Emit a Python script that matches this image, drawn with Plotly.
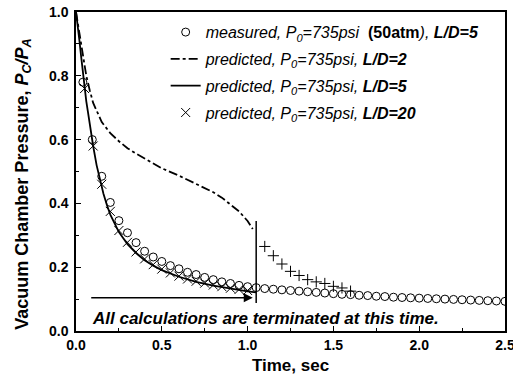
import plotly.graph_objects as go

# ---------------- data ----------------
measured_t = [0.04, 0.095, 0.15, 0.2, 0.25, 0.3, 0.35, 0.4, 0.45, 0.5,
              0.55, 0.6, 0.65, 0.7, 0.75, 0.8, 0.85, 0.9, 0.95, 1.0,
              1.05, 1.1, 1.15, 1.2, 1.25, 1.3, 1.35, 1.4, 1.45, 1.5,
              1.55, 1.6, 1.65, 1.7, 1.75, 1.8, 1.85, 1.9, 1.95, 2.0,
              2.05, 2.1, 2.15, 2.2, 2.25, 2.3, 2.35, 2.4, 2.45, 2.5]
measured_p = [0.78, 0.60, 0.485, 0.403, 0.346, 0.308, 0.277, 0.25, 0.232, 0.218,
              0.205, 0.195, 0.184, 0.177, 0.168, 0.161, 0.154, 0.149, 0.143, 0.139,
              0.136, 0.133, 0.131, 0.129, 0.127, 0.125, 0.123, 0.121, 0.119, 0.117,
              0.115, 0.114, 0.112, 0.111, 0.109, 0.108, 0.106, 0.105, 0.104, 0.103,
              0.102, 0.101, 0.100, 0.099, 0.098, 0.097, 0.096, 0.095, 0.094, 0.093]

ld2_t = [0.0, 0.02, 0.04, 0.06, 0.08, 0.1, 0.15, 0.2, 0.25, 0.3, 0.35, 0.4,
         0.5, 0.6, 0.7, 0.8, 0.85, 0.9, 0.95, 1.0, 1.03]
ld2_p = [1.0, 0.93, 0.86, 0.80, 0.755, 0.715, 0.655, 0.62, 0.595, 0.573, 0.556, 0.54,
         0.51, 0.487, 0.462, 0.435, 0.418, 0.397, 0.375, 0.345, 0.32]

ld5_t = [0.0, 0.01, 0.02, 0.03, 0.04, 0.05, 0.06, 0.07, 0.08, 0.09, 0.1, 0.12,
         0.14, 0.16, 0.18, 0.2, 0.25, 0.3, 0.35, 0.4, 0.45, 0.5, 0.6, 0.7,
         0.8, 0.9, 1.0, 1.05]
ld5_p = [1.0, 0.96, 0.91, 0.86, 0.81, 0.765, 0.72, 0.685, 0.645, 0.61, 0.58, 0.52,
         0.47, 0.43, 0.395, 0.365, 0.31, 0.272, 0.244, 0.222, 0.205, 0.191, 0.17, 0.154,
         0.142, 0.132, 0.124, 0.121]

ld20_t = [0.05, 0.1, 0.15, 0.2, 0.25, 0.3, 0.35, 0.4, 0.45, 0.5,
          0.55, 0.6, 0.65, 0.7, 0.75, 0.8, 0.85, 0.9, 0.95, 1.0]
ld20_p = [0.76, 0.58, 0.46, 0.375, 0.315, 0.278, 0.248, 0.226, 0.208, 0.194,
          0.182, 0.172, 0.163, 0.156, 0.150, 0.144, 0.139, 0.134, 0.130, 0.127]

plus_t = [1.1, 1.15, 1.2, 1.25, 1.3, 1.35, 1.4, 1.45, 1.5, 1.55, 1.6]
plus_p = [0.265, 0.236, 0.21, 0.187, 0.174, 0.161, 0.154, 0.149, 0.14, 0.135, 0.125]

terminate_t = 1.05
terminate_p_range = [0.088, 0.345]
arrow_start_t = 0.08
arrow_end_t = 1.03
arrow_p = 0.104
note_text = "All calculations are terminated at this time."

x_ticks = [0.0, 0.5, 1.0, 1.5, 2.0, 2.5]
y_ticks = [0.0, 0.2, 0.4, 0.6, 0.8, 1.0]

FONT = "Liberation Sans, Arial, sans-serif"

fig = go.Figure()

fig.add_trace(go.Scatter(
    x=measured_t, y=measured_p, mode="markers",
    marker=dict(symbol="circle-open", size=8, color="black", line=dict(width=1)),
    name="<i>measured, P<sub>0</sub>=735psi </i> <b>(50atm</b><i>), </i><b><i>L/D=5</i></b>",
    legendgroup="a"))
fig.add_trace(go.Scatter(
    x=ld2_t, y=ld2_p, mode="lines",
    line=dict(color="black", width=1.8, dash="dashdot"),
    name="<i>predicted, P<sub>0</sub>=735psi, </i><b><i>L/D=2</i></b>",
    legendgroup="b"))
fig.add_trace(go.Scatter(
    x=ld5_t, y=ld5_p, mode="lines",
    line=dict(color="black", width=1.8),
    name="<i>predicted, P<sub>0</sub>=735psi, </i><b><i>L/D=5</i></b>",
    legendgroup="c"))
fig.add_trace(go.Scatter(
    x=ld20_t, y=ld20_p, mode="markers",
    marker=dict(symbol="x-thin-open", size=9, color="black", line=dict(width=1)),
    name="<i>predicted, P<sub>0</sub>=735psi, </i><b><i>L/D=20</i></b>",
    legendgroup="d"))
fig.add_trace(go.Scatter(
    x=plus_t, y=plus_p, mode="markers",
    marker=dict(symbol="cross-thin-open", size=8, color="black", line=dict(width=1)),
    showlegend=False))
fig.add_trace(go.Scatter(
    x=[terminate_t, terminate_t], y=terminate_p_range, mode="lines",
    line=dict(color="black", width=1.5), showlegend=False, hoverinfo="skip"))

fig.add_annotation(x=arrow_end_t, y=arrow_p, ax=arrow_start_t, ay=arrow_p,
                   xref="x", yref="y", axref="x", ayref="y",
                   showarrow=True, arrowhead=2, arrowsize=1.2, arrowwidth=1.5,
                   arrowcolor="black", text="")
fig.add_annotation(x=arrow_start_t, y=0.04, xref="x", yref="y", xanchor="left",
                   yanchor="middle", showarrow=False, text="<b><i>" + note_text + "</i></b>",
                   font=dict(family=FONT, size=17, color="black"))

axis_common = dict(showline=True, linecolor="black", linewidth=1.5, mirror=True,
                   ticks="inside", ticklen=5, tickwidth=1, tickcolor="black",
                   showgrid=False, zeroline=False, ticklabeloverflow="allow",
                   tickfont=dict(family=FONT, size=14, color="black", weight="bold"))

fig.update_xaxes(range=[0, 2.5], tickvals=x_ticks, ticktext=[f"{v:.1f}" for v in x_ticks],
                 minor=dict(ticks="inside", dtick=0.25, ticklen=3, tickcolor="black"),
                 title=dict(text="<b>Time, sec</b>", font=dict(family=FONT, size=17, color="black"),
                            standoff=8),
                 **axis_common)
fig.update_yaxes(range=[0, 1.0], tickvals=y_ticks, ticktext=[f"{v:.1f}" for v in y_ticks],
                 minor=dict(ticks="inside", dtick=0.1, ticklen=3, tickcolor="black"),
                 ticklabelstandoff=3,
                 title=dict(text="<b>Vacuum Chamber Pressure, <i>P<sub>C</sub>/P<sub>A</sub></i>"
                                 "&nbsp;&nbsp;&nbsp;&nbsp;&nbsp;</b>",
                            font=dict(family=FONT, size=18, color="black"), standoff=16),
                 **axis_common)

fig.update_layout(
    width=513, height=384,
    margin=dict(l=76, r=8, t=12, b=53, autoexpand=False),
    paper_bgcolor="white", plot_bgcolor="white",
    legend=dict(x=0.209, y=0.99, xanchor="left", yanchor="top",
                bgcolor="rgba(0,0,0,0)", borderwidth=0,
                font=dict(family=FONT, size=16, color="black"),
                tracegroupgap=3),
    font=dict(family=FONT, color="black"),
)

fig.write_html("out.html", config={"displayModeBar": False},
               post_script="document.body.style.margin='0px';")
